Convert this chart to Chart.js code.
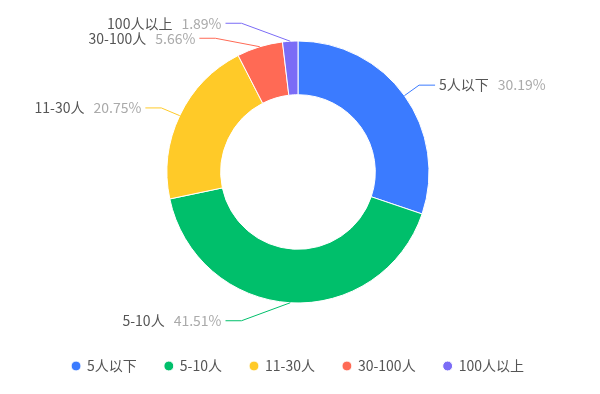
<!DOCTYPE html>
<html>
<head>
<meta charset="utf-8">
<script src="https://cdn.jsdelivr.net/npm/chart.js@4/dist/chart.umd.min.js"></script>
<style>
  html, body { margin: 0; padding: 0; background: #fff; }
  #wrap { width: 600px; height: 394px; position: relative; }
</style>
</head>
<body>
<div id="wrap"><canvas id="c"></canvas></div>
<script>
// 数据
const categories = ['5人以下', '5-10人', '11-30人', '30-100人', '100人以上'];
const shares = [30.19, 41.51, 20.75, 5.66, 1.89];
const colors = ['#3B7BFF', '#00BF6B', '#FFCA28', '#FF6A55', '#7B6CF6'];

Chart.defaults.font.family = '"Noto Sans CJK SC", "Noto Sans", sans-serif';
Chart.defaults.font.size = 14;
Chart.defaults.color = '#555';

const LEN1 = 18;   // 引导线第一段
const LEN2 = 16;   // 引导线水平段
const LINE_H = 15; // 标签最小间距

/** 外侧标签 + 引导线（类似 ECharts 的 pie label） */
const outsideLabels = {
  id: 'outsideLabels',
  afterDatasetsDraw(chart) {
    const ctx = chart.ctx;
    const meta = chart.getDatasetMeta(0);
    const data = chart.data.datasets[0].data;
    const total = data.reduce((a, b) => a + b, 0);

    const items = meta.data.map((arc, i) => {
      const p = arc.getProps(['x', 'y', 'startAngle', 'endAngle', 'outerRadius'], true);
      const mid = (p.startAngle + p.endAngle) / 2;
      const cos = Math.cos(mid), sin = Math.sin(mid);
      const r1 = p.outerRadius + LEN1;
      return {
        i, cx: p.x, cy: p.y, r: p.outerRadius,
        ax: p.x + p.outerRadius * cos, ay: p.y + p.outerRadius * sin,
        ex: p.x + r1 * cos, ey: p.y + r1 * sin,
        dir: cos >= 0 ? 1 : -1,
      };
    });

    // 同侧避让，重新贴合椭圆
    [1, -1].forEach((dir) => {
      const side = items.filter((it) => it.dir === dir).sort((a, b) => a.ey - b.ey);
      let shifted = false;
      for (let k = 1; k < side.length; k++) {
        if (side[k].ey - side[k - 1].ey < LINE_H) {
          side[k].ey = side[k - 1].ey + LINE_H;
          shifted = true;
        }
      }
      if (!shifted) return;
      [true, false].forEach((top) => {
        const semi = side.filter((it) => (it.ey < it.cy) === top);
        if (!semi.length) return;
        const rB = Math.max(...semi.map((it) => Math.abs(it.ey - it.cy))) + 12;
        semi.forEach((it) => {
          const dy = Math.abs(it.ey - it.cy);
          const rA = it.r + LEN1;
          it.ex = it.cx + dir * Math.sqrt(Math.max(0, 1 - (dy * dy) / (rB * rB))) * rA;
        });
      });
    });

    ctx.save();
    ctx.font = '14px "Noto Sans CJK SC", "Noto Sans", sans-serif';
    ctx.textBaseline = 'middle';
    items.forEach((it) => {
      const color = colors[it.i];
      const lx = it.ex + it.dir * LEN2;
      ctx.strokeStyle = color;
      ctx.lineWidth = 1;
      ctx.beginPath();
      ctx.moveTo(it.ax, it.ay);
      ctx.lineTo(it.ex, it.ey);
      ctx.lineTo(lx, it.ey);
      ctx.stroke();

      const name = chart.data.labels[it.i];
      const pct = (data[it.i] / total * 100).toFixed(2) + '%';
      const gap = 9;
      const tx = lx + it.dir * 4;
      const nameW = ctx.measureText(name).width;
      const pctW = ctx.measureText(pct).width;
      ctx.textAlign = 'left';
      let nx, px;
      if (it.dir > 0) { nx = tx; px = tx + nameW + gap; }
      else { px = tx - pctW; nx = px - gap - nameW; }
      ctx.fillStyle = '#555';
      ctx.fillText(name, nx, it.ey);
      ctx.fillStyle = '#aaa';
      ctx.fillText(pct, px, it.ey);
    });
    ctx.restore();
  },
};

new Chart(document.getElementById('c'), {
  type: 'doughnut',
  data: {
    labels: categories,
    datasets: [{
      data: shares,
      backgroundColor: colors,
      borderColor: '#fff',
      borderWidth: 1,
      radius: 131,
      cutout: '59%',
    }],
  },
  options: {
    responsive: true,
    maintainAspectRatio: false,
    devicePixelRatio: 1,
    animation: false,
    events: [],
    layout: { padding: { top: 13, bottom: 11, left: 0, right: 4 } },
    plugins: {
      tooltip: { enabled: false },
      legend: {
        position: 'bottom',
        labels: {
          usePointStyle: true,
          pointStyle: 'circle',
          boxWidth: 8,
          boxHeight: 7,
          padding: 28,
          color: '#555',
          font: { size: 14 },
        },
      },
    },
  },
  plugins: [outsideLabels],
});
</script>
</body>
</html>
